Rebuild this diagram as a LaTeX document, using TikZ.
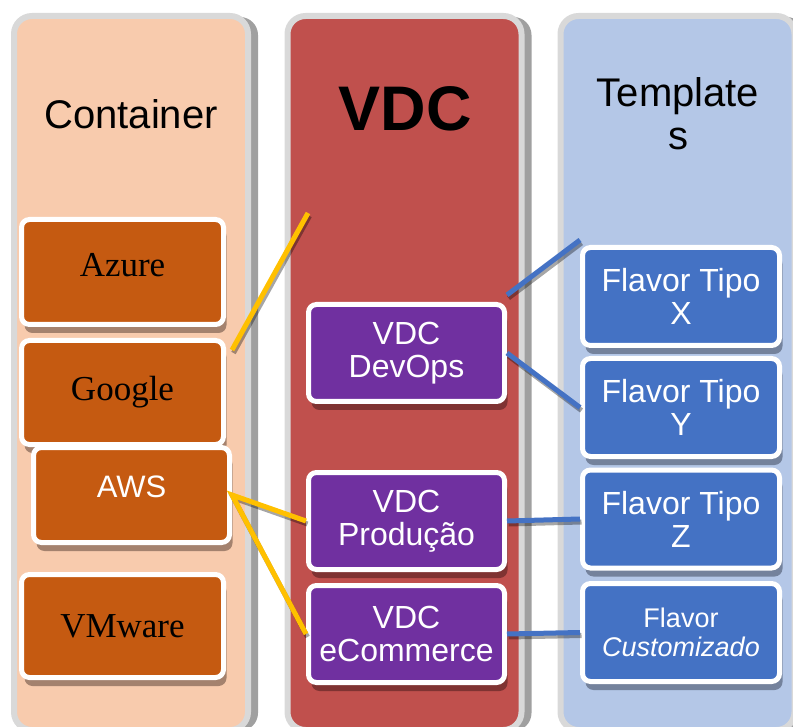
\documentclass[tikz,border=0pt]{standalone}
\usepackage{fontspec}
\setmainfont{Liberation Sans}
\newfontfamily\cloudfont{Liberation Serif}
\usetikzlibrary{shadows}

\definecolor{peach}{HTML}{F8CBAD}
\definecolor{vdcred}{HTML}{C0504D}
\definecolor{tplblue}{HTML}{B4C7E7}
\definecolor{cloudorange}{HTML}{C55A11}
\definecolor{vdcpurple}{HTML}{7030A0}
\definecolor{flavorblue}{HTML}{4472C4}
\definecolor{gold}{HTML}{FFC000}
\definecolor{panelrim}{HTML}{D9D9D9}
\definecolor{panelshade}{HTML}{A0A0A0}
\definecolor{cloudshade}{HTML}{A4826E}
\definecolor{vdcshade}{HTML}{7F3332}
\definecolor{flavorshade}{HTML}{74829C}

\begin{document}
\begin{tikzpicture}[x=1pt, y=-1pt,
  panel/.style={draw=panelrim, line width=6pt, rounded corners=18pt,
    minimum width=234pt, minimum height=714pt,
    drop shadow={shadow xshift=10pt, shadow yshift=-1pt, fill=panelshade, opacity=1}},
  box/.style={draw=white, line width=5pt, rounded corners=8pt, inner sep=0pt,
    align=center, text=white},
  cloud/.style={box, fill=cloudorange, minimum width=202pt, text=black,
    font=\cloudfont\fontsize{35}{38}\selectfont,
    drop shadow={shadow xshift=3pt, shadow yshift=-8.5pt, fill=cloudshade, opacity=1}},
  vdcbox/.style={box, fill=vdcpurple, minimum width=196pt, minimum height=97pt,
    font=\fontsize{32}{33}\selectfont,
    drop shadow={shadow xshift=3pt, shadow yshift=-8.5pt, fill=vdcshade, opacity=1}},
  flavor/.style={box, fill=flavorblue, minimum width=197pt, minimum height=98pt,
    font=\fontsize{32}{33}\selectfont,
    drop shadow={shadow xshift=3pt, shadow yshift=-8.5pt, fill=flavorshade, opacity=1}},
  wire/.style={line width=5pt,
    preaction={draw=black, draw opacity=.35, line width=5pt,
      transform canvas={shift={(1.5pt,-3pt)}}}}]

  \useasboundingbox (0,0) rectangle (793,727);

  \node[panel, fill=peach] (contpanel) at (131,373) {};
  \node[panel, fill=vdcred] (vdcpanel) at (404.5,373) {};
  \node[panel, fill=tplblue] (tplpanel) at (677.5,373) {};

  \node[font=\fontsize{40}{43}\selectfont] (conttitle) at (131,114.5) {Container};
  \node[font=\bfseries\fontsize{63}{66}\selectfont] (vdctitle) at (405,109) {VDC};
  \node[font=\fontsize{40}{43}\selectfont, align=center] (tpltitle) at (678,114) {Template\\s};

  \node[cloud, minimum height=105pt, text depth=14pt] (azure) at (122.5,272) {Azure};
  \node[cloud, minimum height=104pt] (google) at (122.5,392.5) {Google};
  \node[cloud, minimum width=196pt, minimum height=95pt, text=white,
    font=\fontsize{31}{33}\selectfont, text depth=17pt] (aws) at (131.5,495) {AWS};
  \node[cloud, minimum height=103pt] (vmware) at (122.5,626) {VMware};

  \node[vdcbox] (devops) at (406.5,353) {VDC\\DevOps};
  \node[vdcbox] (producao) at (406.5,521) {VDC\\Produção};
  \node[vdcbox] (ecommerce) at (406.5,634) {VDC\\eCommerce};

  \node[flavor] (tipox) at (681,296.5) {Flavor Tipo\\X};
  \node[flavor] (tipoy) at (681,407.5) {Flavor Tipo\\Y};
  \node[flavor] (tipoz) at (681,519) {Flavor Tipo\\Z};
  \node[flavor, font=\fontsize{27}{29}\selectfont] (custom) at (681,632.5) {Flavor\\\textit{Customizado}};

  \coordinate (gfree) at (308,213);
  \draw[wire, gold] ([xshift=6pt,yshift=-12pt]google.north east) -- (gfree);
  \draw[wire, gold] (producao.west) -- (aws.east) -- (ecommerce.west);

  \draw[wire, flavorblue] ([yshift=7pt]devops.north east) -- ([yshift=5pt]tipox.north west);
  \draw[wire, flavorblue] (devops.east) -- (tipoy.west);
  \draw[wire, flavorblue] (producao.east) -- (tipoz.west);
  \draw[wire, flavorblue] (ecommerce.east) -- (custom.west);

\end{tikzpicture}
\end{document}
